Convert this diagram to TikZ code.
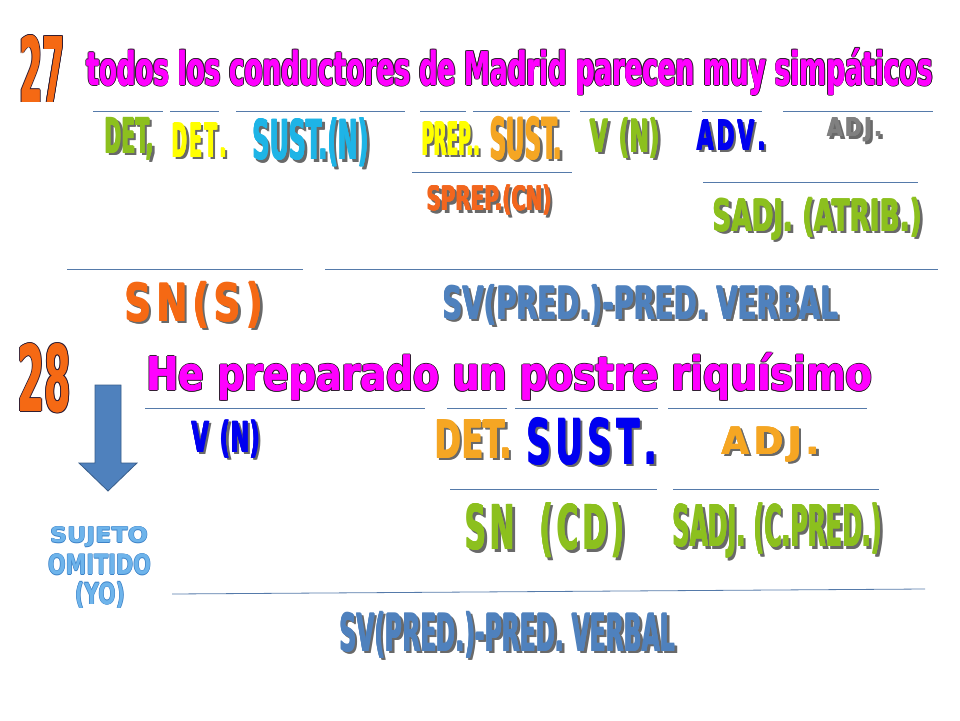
\documentclass[tikz,border=0pt]{standalone}
\usepackage{fontspec}
\usepackage{graphicx}
\newfontfamily\impf{DejaVu Sans Condensed Bold}
\newfontfamily\dvs{DejaVu Sans Bold}
\definecolor{numorange}{RGB}{245,105,20}
\definecolor{tmag}{RGB}{255,0,255}
\definecolor{olink}{RGB}{50,30,50}
\definecolor{wgreen}{RGB}{140,192,30}
\definecolor{wyellow}{RGB}{255,255,0}
\definecolor{wcyan}{RGB}{30,180,230}
\definecolor{worange}{RGB}{245,166,35}
\definecolor{wred}{RGB}{242,102,30}
\definecolor{wblue}{RGB}{0,0,240}
\definecolor{wgrey}{RGB}{128,128,128}
\definecolor{steel}{RGB}{79,129,189}
\definecolor{steeldark}{RGB}{56,93,138}
\definecolor{lblue}{RGB}{110,180,235}
\definecolor{lbluedark}{RGB}{60,130,200}
\definecolor{shgray}{RGB}{105,105,105}
\definecolor{uline}{RGB}{85,122,170}
\newcommand\ks{\kern.12em\relax}
\newcommand\kk{\kern.2em\relax}
\newcommand\olcopy[3]{\rlap{\smash{\kern#1pt\raise#2pt\hbox{\color{#3}\copy0}}}}
% shadowed word-art text: width, totalheight, colour, text
\newcommand\WA[4]{\setbox0\hbox{\resizebox*{#1}{#2}{\impf #4}}%
  \olcopy{2.0}{-2.5}{shgray}\olcopy{3.0}{-2.5}{shgray}%
  \olcopy{-.5}{0}{#3}\olcopy{.5}{0}{#3}\olcopy{0}{.3}{#3}%
  \hbox{\color{#3}\copy0}}
% outlined text: width, totalheight, fill, outline, text
\newcommand\OL[5]{\setbox0\hbox{\resizebox*{#1}{#2}{\impf #5}}%
  \olcopy{-1.2}{0}{#4}\olcopy{1.2}{0}{#4}\olcopy{0}{1}{#4}\olcopy{0}{-1}{#4}%
  \olcopy{.9}{.8}{#4}\olcopy{-.9}{.8}{#4}\olcopy{.9}{-.8}{#4}\olcopy{-.9}{-.8}{#4}%
  \olcopy{-.3}{0}{#3}\olcopy{.3}{0}{#3}%
  \hbox{\color{#3}\copy0}}
% soft outlined text (sujeto omitido)
\newcommand\SO[4]{\setbox0\hbox{\resizebox*{#1}{#2}{\dvs #4}}%
  \olcopy{-.6}{0}{#3}\olcopy{.6}{0}{#3}\olcopy{0}{.6}{#3}\olcopy{0}{-.6}{#3}%
  \hbox{\color{lblue}\copy0}}
\tikzset{
  wa/.style={inner sep=0pt, outer sep=0pt, anchor=center},
  ul/.style={draw=uline, line width=0.8pt}
}
\begin{document}
\begin{tikzpicture}[x=1pt,y=-1pt]
\useasboundingbox[fill=white] (0,0) rectangle (960,720);
% ---- 27 ----
\node[wa] (n27) at (42.5,68.5) {\OL{45pt}{67pt}{numorange}{olink}{27}};
\node[wa] (t27) at (510,71.5) {\OL{846pt}{47pt}{tmag}{olink}{todos los conductores de Madrid parecen muy simpáticos}};
% row 1 lines
\draw[ul] (93,111) -- (163,111);
\draw[ul] (170,111) -- (219,111);
\draw[ul] (236,111) -- (405,111);
\draw[ul] (420,111) -- (466,111);
\draw[ul] (473,111) -- (570,111);
\draw[ul] (580,111) -- (692,111);
\draw[ul] (702,111) -- (762,111);
\draw[ul] (783,111) -- (933,111);
% row 1 words
\node[wa] (a1) at (129.5,139) {\WA{49pt}{42pt}{wgreen}{DET,}};
\node[wa] (a2) at (199.5,140) {\WA{55pt}{34pt}{wyellow}{D\ks E\ks T\ks .}};
\node[wa] (a3) at (311,142.5) {\WA{116pt}{49pt}{wcyan}{SUST.(N)}};
\node[wa] (a4) at (451,138.5) {\WA{58pt}{33pt}{wyellow}{PREP..}};
\node[wa] (a5) at (526,138.5) {\WA{72pt}{43pt}{worange}{SUST.}};
\node[wa] (a6) at (625,138) {\WA{70pt}{40pt}{wgreen}{V\ks\ (N)}};
\node[wa] (a7) at (731.5,135) {\WA{69pt}{30pt}{wblue}{A\ks D\ks V\ks .}};
\node[wa] (a8) at (854.5,130) {\WA{55pt}{24pt}{wgrey}{A\ks D\ks J\ks .}};
% row 1 groups
\draw[ul] (412,172) -- (572,172);
\node[wa] (b1) at (489.5,200) {\WA{125pt}{30pt}{wred}{SPREP.(CN)}};
\draw[ul] (703,182) -- (918,182);
\node[wa] (b2) at (817.5,219) {\WA{209pt}{42pt}{wgreen}{SADJ. (ATRIB.)}};
\draw[ul] (67,269) -- (303,269);
\draw[ul] (325,269) -- (938,269);
\node[wa] (c1) at (194,305) {\WA{138pt}{46pt}{numorange}{S\ks N\ks (\ks S\ks )}};
\node[wa] (c2) at (640.5,305) {\WA{395pt}{40pt}{steel}{SV(PRED.)-PRED. VERBAL}};
% ---- 28 ----
\node[wa] (n28) at (44.5,378.5) {\OL{53pt}{69pt}{numorange}{olink}{28}};
\node[wa] (t28) at (509.5,377) {\OL{725pt}{47pt}{tmag}{olink}{He preparado un postre riquísimo}};
% arrow
\filldraw[fill=steel, draw=steeldark, line width=0.8pt, line join=miter]
  (95,385) -- (121,385) -- (121,463) -- (137,463) -- (108,491) -- (79,463) -- (95,463) -- cycle;
% row 2 lines
\draw[ul] (145,408) -- (425,408);
\draw[ul] (447,408) -- (507,408);
\draw[ul] (515,408) -- (658,408);
\draw[ul] (668,408) -- (867,408);
% row 2 words
\node[wa] (d1) at (226,439) {\WA{68pt}{38pt}{wblue}{V\ks\ (N)}};
\node[wa] (d2) at (473.5,439) {\WA{77pt}{38pt}{worange}{DET.}};
\node[wa] (d3) at (592,441.5) {\WA{130pt}{47pt}{wblue}{S\ks U\ks S\ks T\ks .}};
\node[wa] (d4) at (771,444.5) {\WA{98pt}{35pt}{worange}{A\ks D\ks J\ks .}};
\draw[ul] (450,489) -- (657,489);
\draw[ul] (673,489) -- (879,489);
\node[wa] (e1) at (545,530.5) {\WA{160pt}{55pt}{wgreen}{S\ks N\ks\ \ (\ks C\ks D\ks )}};
\node[wa] (e2) at (777.5,530.5) {\WA{209pt}{55pt}{wgreen}{SADJ. (C.PRED.)}};
% sujeto omitido
\node[wa] (s1) at (99,537) {\SO{98pt}{20pt}{lbluedark}{SUJETO}};
\node[wa] (s2) at (99.5,564.5) {\SO{103pt}{21pt}{lbluedark}{OMITIDO}};
\node[wa] (s3) at (100,595) {\SO{50pt}{26pt}{lbluedark}{(YO)}};
% predicate
\draw[ul] (172,594) -- (925,589);
\node[wa] (f1) at (507.5,635) {\WA{335pt}{46pt}{steel}{SV(PRED.)-PRED. VERBAL}};
\end{tikzpicture}
\end{document}
